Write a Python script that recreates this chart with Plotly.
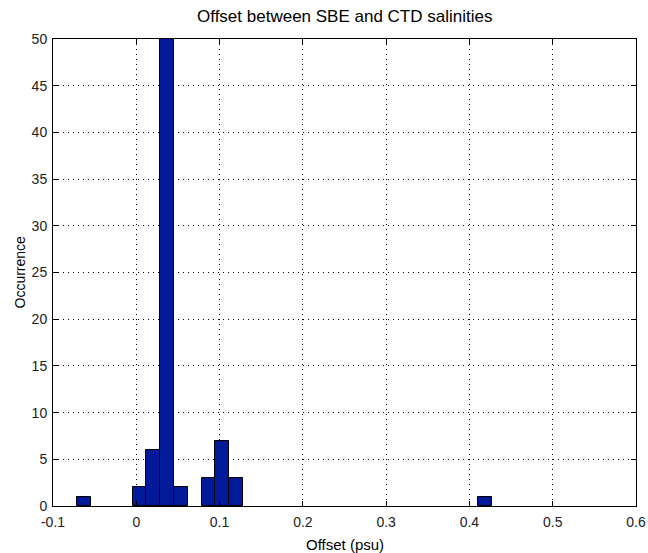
import plotly.graph_objects as go

# histogram bins that have counts (bin centre in psu, count)
bin_centres = [-0.0625, 0.0039, 0.0205, 0.0370, 0.0536, 0.0868, 0.1034, 0.1200, 0.4186]
counts = [1, 2, 6, 50, 2, 3, 7, 3, 1]
bin_width = 0.0166

x_ticks = [-0.1, 0, 0.1, 0.2, 0.3, 0.4, 0.5, 0.6]
x_labels = ['-0.1', '0', '0.1', '0.2', '0.3', '0.4', '0.5', '0.6']
y_ticks = [0, 5, 10, 15, 20, 25, 30, 35, 40, 45, 50]

fam = 'Liberation Sans, Arial, sans-serif'
tick_font = dict(family=fam, size=14, color='#222222')

data = [go.Bar(x=bin_centres,
               y=counts,
               width=bin_width,
               marker=dict(color='#001a9a',
                           line=dict(color='black', width=1)),
               showlegend=False)]

axis_style = dict(showline=True, linecolor='black', linewidth=1, mirror='ticks',
                  ticks='inside', ticklen=5, tickcolor='black',
                  showgrid=True, gridcolor='black', gridwidth=1, griddash='1px,4px',
                  zeroline=False, tickfont=tick_font, automargin=False)

layout = go.Layout(xaxis=dict(axis_style, range=[-0.1, 0.6], tickvals=x_ticks, ticktext=x_labels,
                              ticklabelstandoff=3),
                   yaxis=dict(axis_style, range=[0, 50], tickvals=y_ticks, ticklabelstandoff=2),
                   width=648, height=553,
                   margin=dict(l=53, r=12, t=39, b=47),
                   paper_bgcolor='white', plot_bgcolor='white',
                   bargap=0,
                   annotations=[
                       dict(text='Offset between SBE and CTD salinities', xref='paper', yref='paper',
                            x=0.5, y=1, yshift=23, xanchor='center', yanchor='middle', showarrow=False,
                            font=dict(family=fam, size=17, color='black')),
                       dict(text='Offset (psu)', xref='paper', yref='paper',
                            x=0.5, y=0, yshift=-38, xanchor='center', yanchor='middle', showarrow=False,
                            font=dict(family=fam, size=15, color='black')),
                       dict(text='Occurrence', xref='paper', yref='paper', textangle=-90,
                            x=0, xshift=-34, y=0.5, xanchor='center', yanchor='middle', showarrow=False,
                            font=dict(family=fam, size=14, color='black')),
                   ])

fig = go.Figure(data, layout)
# drop the default 8px body margin so the figure fills the window exactly
fig.write_html('out.html', config={'displayModeBar': False},
               post_script="document.body.style.margin='0px';")
